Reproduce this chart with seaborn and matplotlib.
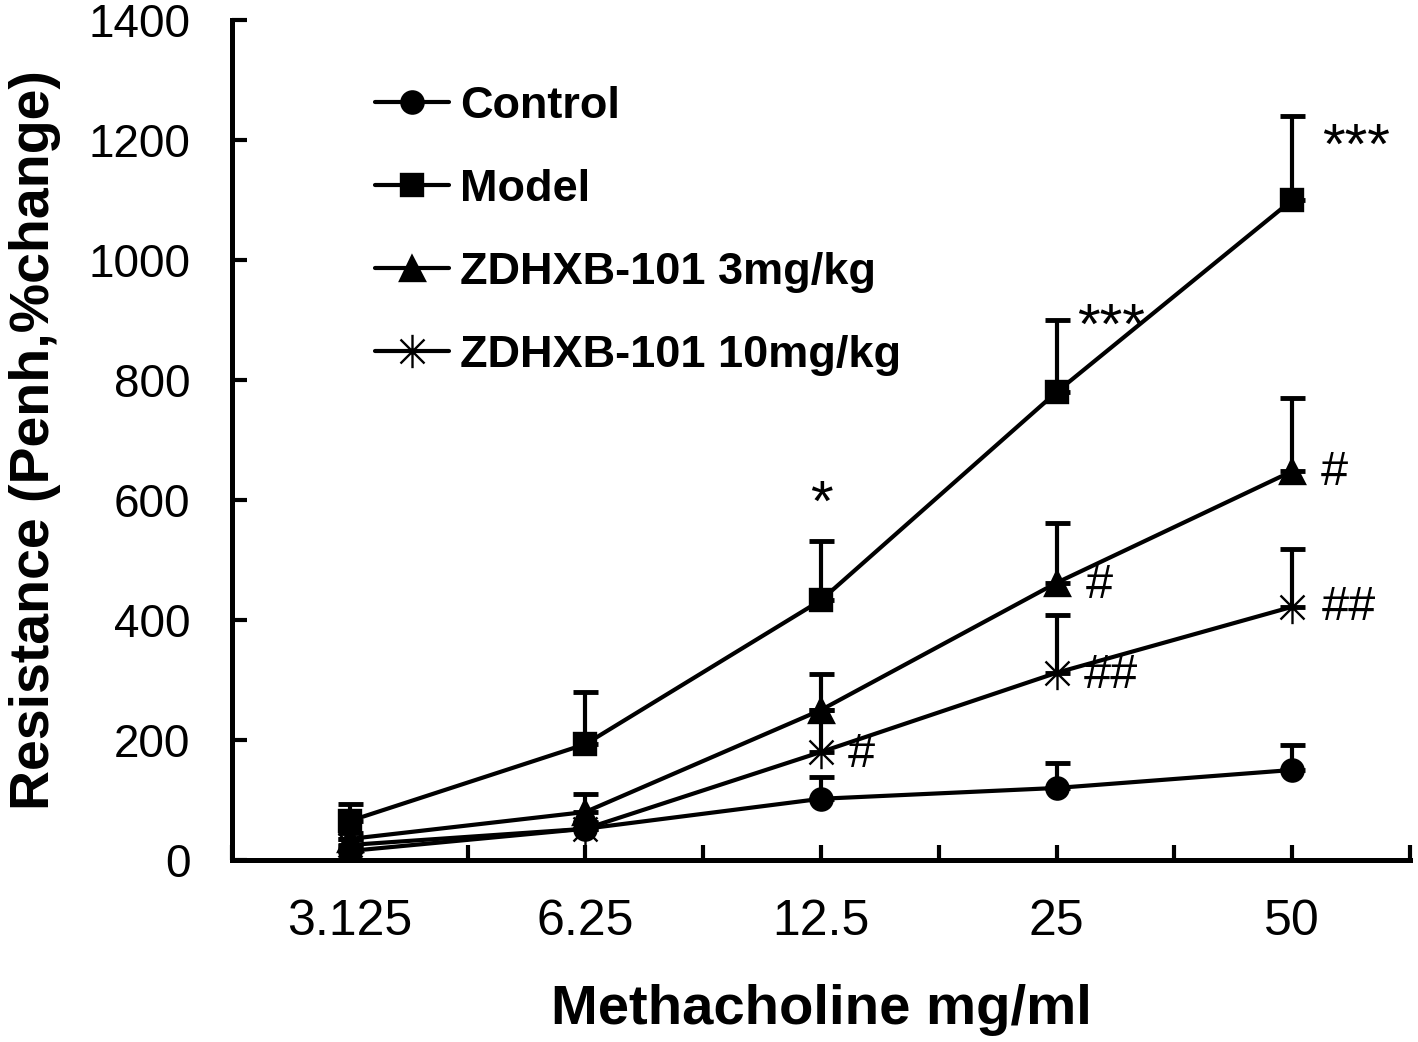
"""Airway resistance vs methacholine dose, line chart with one-sided error bars."""

import matplotlib

matplotlib.use("Agg")

import matplotlib.pyplot as plt
import pandas as pd
import seaborn as sns
from matplotlib.path import Path

DOSES = ["3.125", "6.25", "12.5", "25", "50"]
GROUPS = ["Control", "Model", "ZDHXB-101 3mg/kg", "ZDHXB-101 10mg/kg"]

CONTROL = [15, 52, 102, 120, 150]
CONTROL_ERR = [8, 10, 36, 42, 42]
MODEL = [65, 193, 433, 780, 1100]
MODEL_ERR = [28, 87, 98, 120, 140]
ZD3 = [35, 80, 250, 462, 648]
ZD3_ERR = [10, 30, 60, 100, 122]
ZD10 = [25, 52, 180, 312, 422]
ZD10_ERR = [10, 12, 70, 97, 97]

# significance marks: (text, dose index, value, x offset in category units)
MARKS = [
    ("*", 2, 590, 0.0),
    ("***", 3, 885, 0.23),
    ("***", 4, 1185, 0.27),
    ("#", 4, 645, 0.18),
    ("#", 3, 458, 0.18),
    ("##", 4, 420, 0.24),
    ("##", 3, 308, 0.23),
    ("#", 2, 175, 0.17),
]

# vertical bar plus an X: the six armed star used for the 10mg/kg group
STAR = Path(
    [(0, -1), (0, 1), (-0.72, -0.72), (0.72, 0.72), (-0.72, 0.72), (0.72, -0.72)],
    [Path.MOVETO, Path.LINETO, Path.MOVETO, Path.LINETO, Path.MOVETO, Path.LINETO],
)

MARKERS = {
    "Control": ("o", 16),
    "Model": ("s", 16),
    "ZDHXB-101 3mg/kg": ("^", 18),
    "ZDHXB-101 10mg/kg": (STAR, 24),
}


def main() -> None:
    sns.set_style("ticks")
    plt.rcParams.update(
        {
            "font.family": ["Liberation Sans", "DejaVu Sans"],
            "text.color": "black",
            "axes.labelcolor": "black",
            "axes.edgecolor": "black",
            "xtick.color": "black",
            "ytick.color": "black",
        }
    )

    values = [CONTROL, MODEL, ZD3, ZD10]
    errors = [CONTROL_ERR, MODEL_ERR, ZD3_ERR, ZD10_ERR]

    fig = plt.figure(figsize=(14.18, 10.42), dpi=100)
    ax = fig.add_axes([0.1636, 0.1747, 0.8308, 0.8061])

    for group, vals, errs in zip(GROUPS, values, errors):
        df = pd.DataFrame({"dose": DOSES, "value": vals, "err": errs})
        df["pos"] = range(len(DOSES))
        ax.errorbar(
            df["pos"], df["value"], yerr=[[0] * len(DOSES), df["err"]],
            fmt="none", ecolor="black", elinewidth=3, capsize=9, capthick=3.5,
            zorder=2,
        )
        marker, size = MARKERS[group]
        sns.lineplot(
            data=df, x="pos", y="value", ax=ax, color="black", linewidth=3,
            marker=marker, markersize=size, markeredgecolor="black",
            markeredgewidth=1.7, label=group, zorder=3,
        )

    for text, idx, val, dx in MARKS:
        size = 42 if "*" in text else 35
        ax.text(idx + dx, val, text, fontsize=size, ha="center", va="center")

    ax.set_xlim(-0.5, 4.5)
    ax.set_ylim(0, 1400)
    ax.set_xticks(range(len(DOSES)))
    ax.set_xticklabels(DOSES)
    ax.set_xticks([i + 0.5 for i in range(-1, len(DOSES))], minor=True)
    ax.set_yticks(range(0, 1401, 200))

    for side in ["top", "right"]:
        ax.spines[side].set_visible(False)
    for side in ["left", "bottom"]:
        ax.spines[side].set_linewidth(3.6)

    ax.tick_params(axis="x", which="both", direction="in", length=11, width=3,
                   labelsize=36, pad=28)
    ax.tick_params(axis="y", direction="in", length=11, width=3,
                   labelsize=33, pad=30)

    ax.set_xlabel("Methacholine mg/ml", fontsize=40.5, fontweight="bold", labelpad=28)
    ax.set_ylabel("Resistance (Penh,%change)", fontsize=40, fontweight="bold",
                  labelpad=20)

    ax.legend(
        loc="upper left", bbox_to_anchor=(0.102, 0.948), frameon=False,
        prop={"size": 32.5, "weight": "bold"}, handlelength=1.65,
        handletextpad=0.25, labelspacing=0.93, borderpad=0,
    )

    fig.savefig("out.png", dpi=100)
    plt.close(fig)


if __name__ == "__main__":
    main()
